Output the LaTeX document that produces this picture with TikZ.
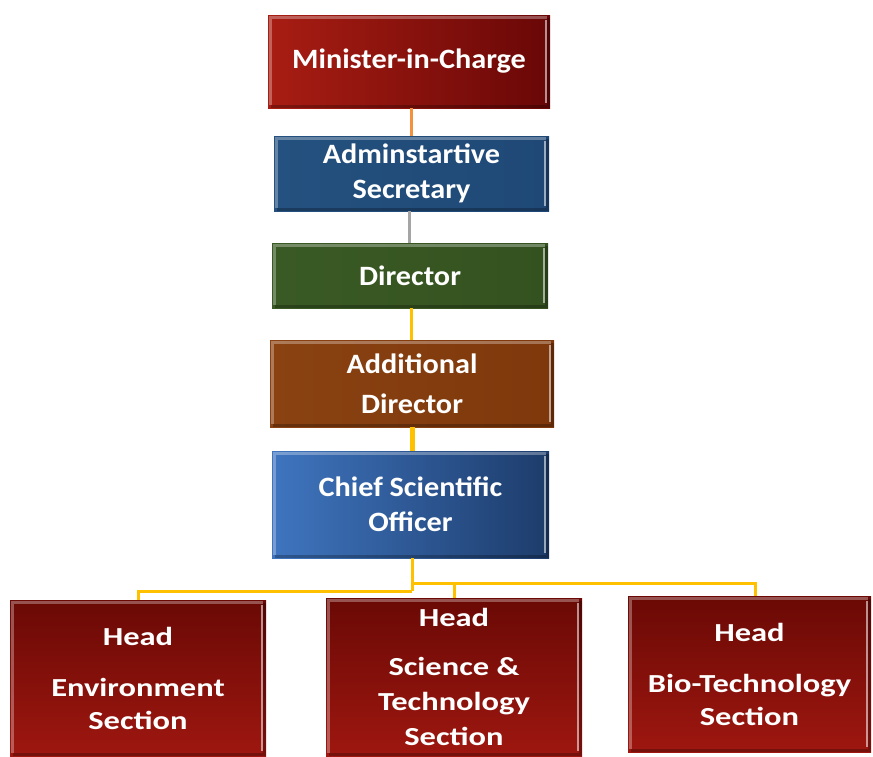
\documentclass[tikz,border=0pt]{standalone}
\usepackage{fontspec}
\setmainfont{Carlito}
\newfontfamily\topfont[FakeStretch=1.08]{Carlito}
\newfontfamily\headfont[FakeStretch=1.25]{Carlito}
\definecolor{mred1}{HTML}{A81D13}
\definecolor{mred2}{HTML}{690707}
\definecolor{ablue}{HTML}{24517F}
\definecolor{ablue2}{HTML}{1F4876}
\definecolor{dgreen}{HTML}{3A5A25}
\definecolor{dgreen2}{HTML}{34521F}
\definecolor{abrown}{HTML}{8A4212}
\definecolor{abrown2}{HTML}{7E380B}
\definecolor{cblue1}{HTML}{3F75BF}
\definecolor{cblue2}{HTML}{1D3C6B}
\definecolor{hred1}{HTML}{6A0905}
\definecolor{hred2}{HTML}{9E1710}
\definecolor{lorange}{HTML}{F4913D}
\definecolor{lgray}{HTML}{A5A5A5}
\definecolor{lyellow}{HTML}{FFC000}
\begin{document}
\begin{tikzpicture}[x=1pt,y=-1pt,
  box/.style={rectangle, inner sep=0pt, text=white, align=center,
    path picture={
      \draw[white, opacity=0.30, line width=3pt]
        ([xshift=2pt,yshift=3pt]path picture bounding box.south west) |-
        ([xshift=-3pt,yshift=-2pt]path picture bounding box.north east);
      \draw[black, opacity=0.25, line width=3pt]
        ([xshift=3pt,yshift=2pt]path picture bounding box.south west) -|
        ([xshift=-2pt,yshift=-3pt]path picture bounding box.north east);
      \draw[white, opacity=0.55, line width=1.2pt]
        ([xshift=-4pt,yshift=-5pt]path picture bounding box.north east) --
        ([xshift=-4pt,yshift=5pt]path picture bounding box.south east);
    }},
  topbox/.style={box, font=\topfont\bfseries\fontsize{28}{35}\selectfont},
  headbox/.style={box, font=\headfont\bfseries\fontsize{26}{33}\selectfont,
    top color=hred1, bottom color=hred2},
  conn/.style={line width=3pt, lyellow}
]
\useasboundingbox (0,0) rectangle (873,756);

\node[topbox, minimum width=282pt, minimum height=93pt,
  left color=mred1, right color=mred2] (m) at (409,61.5) {Minister-in-Charge};
\node[topbox, minimum width=275pt, minimum height=75pt,
  left color=ablue, right color=ablue2] (a) at (411.5,173.5) {Adminstartive\\Secretary};
\node[topbox, minimum width=276pt, minimum height=65pt,
  left color=dgreen, right color=dgreen2] (d) at (410,275.5) {Director};
\node[topbox, minimum width=284pt, minimum height=87pt,
  left color=abrown, right color=abrown2] (ad) at (412,383.5) {Additional\\[5pt]Director};
\node[topbox, minimum width=277pt, minimum height=107pt,
  left color=cblue1, right color=cblue2] (c) at (410.5,504.5) {Chief Scientific\\Officer};

\node[headbox, minimum width=256pt, minimum height=156pt] (e) at (138,678)
  {Head\\[18pt]Environment\\Section};
\node[headbox, minimum width=256pt, minimum height=158pt] (s) at (454,677)
  {Head\\[16pt]Science \&\\[2pt]Technology\\[2pt]Section};
\node[headbox, minimum width=243pt, minimum height=156pt] (b) at (749.5,674)
  {Head\\[18pt]Bio-Technology\\Section};

\draw[line width=3pt, lorange] ([xshift=2pt]m.south) -- ([xshift=2pt]m.south |- a.north);
\draw[line width=3pt, lgray] ([xshift=-2pt]a.south) -- ([xshift=-2pt]a.south |- d.north);
\draw[line width=3pt, lyellow] ([xshift=1pt]d.south) -- ([xshift=1pt]d.south |- ad.north);
\draw[line width=5pt, lyellow] (ad.south) -- (ad.south |- c.north);

\coordinate (j1) at (412,583);
\coordinate (j2) at (412,591);
\draw[conn] ([xshift=1.5pt]c.south) -- (j2);
\draw[conn] (j2) -| (e.north);
\draw[conn] (j1) -| (s.north);
\draw[conn] (j1) -| ([xshift=6pt]b.north);
\end{tikzpicture}
\end{document}
